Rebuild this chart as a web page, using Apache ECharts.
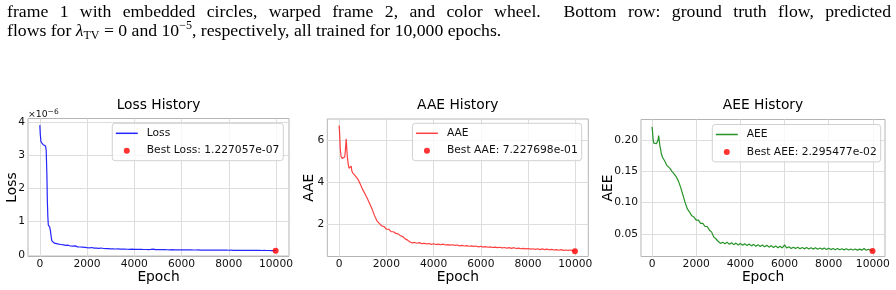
<!DOCTYPE html>
<html>
<head>
<meta charset="utf-8">
<script src="https://cdn.jsdelivr.net/npm/echarts@6/dist/echarts.min.js"></script>
<style>
  html, body { margin:0; padding:0; background:#fff; }
  #chart { position:absolute; left:0; top:0; width:896px; height:290px; }
  .cap { position:absolute; left:7px; width:884px; font-family:'Liberation Serif','Times New Roman',serif; font-size:17.7px; line-height:19px; color:#000; white-space:nowrap; }
  #cap1 { top:2.2px; text-align:justify; text-align-last:justify; white-space:normal; }
  #cap2 { top:21.3px; }
  .sub { font-size:12px; position:relative; top:3px; }
  .sup { font-size:12px; position:relative; top:-7px; }
</style>
</head>
<body>
<div id="chart"></div>
<div class="cap" id="cap1">frame 1 with embedded circles, warped frame 2, and color wheel.&nbsp; Bottom row: ground truth flow, predicted</div>
<div class="cap" id="cap2">flows for <i>λ</i><span class="sub">TV</span> = 0 and 10<span class="sup">−5</span>, respectively, all trained for 10,000 epochs.</div>
<script>
// ---- data ----
const epochs = [0,20,50,80,100,130,160,200,240,270,300,320,340,360,390,420,450,480,510,540,580,620,660,700,
  800,900,1000,1100,1200,1300,1400,1500,1600,1700,1800,1900,2000,2100,2200,2300,2400,2500,2600,2700,2800,2900,
  3000,3100,3200,3300,3400,3500,3600,3700,3800,3900,4000,4100,4200,4300,4400,4500,4600,4700,4800,4900,
  5000,5100,5200,5300,5400,5500,5600,5700,5800,5900,6000,6100,6200,6300,6400,6500,6600,6700,6800,6900,
  7000,7100,7200,7300,7400,7500,7600,7700,7800,7900,8000,8100,8200,8300,8400,8500,8600,8700,8800,8900,
  9000,9100,9200,9300,9400,9500,9600,9700,9800,9900,9990];

// loss in units of 1e-6
const lossE6 = [3.90,3.62,3.40,3.34,3.33,3.32,3.31,3.30,3.27,3.15,2.40,1.60,1.15,0.90,0.86,0.83,0.72,0.55,0.42,0.38,0.36,0.35,0.36,0.33,
  0.32,0.31,0.30,0.285,0.29,0.265,0.26,0.27,0.24,0.235,0.23,0.225,0.215,0.21,0.22,0.20,0.20,0.195,0.205,0.19,0.185,0.185,
  0.18,0.18,0.175,0.18,0.172,0.17,0.172,0.168,0.165,0.17,0.165,0.163,0.162,0.165,0.16,0.16,0.158,0.162,0.17,0.157,
  0.155,0.156,0.154,0.155,0.153,0.152,0.154,0.151,0.15,0.152,0.149,0.15,0.148,0.147,0.149,0.146,0.145,0.147,0.144,0.145,
  0.143,0.144,0.142,0.143,0.141,0.142,0.14,0.141,0.139,0.14,0.138,0.139,0.137,0.138,0.136,0.137,0.135,0.136,0.134,0.135,
  0.133,0.134,0.132,0.133,0.131,0.132,0.13,0.131,0.129,0.128,0.125];

const aae = [6.72,6.40,5.60,5.25,5.18,5.15,5.15,5.17,5.22,5.60,6.08,5.70,5.35,5.10,4.85,4.68,4.62,4.72,4.78,4.55,4.45,4.42,4.35,4.30,
  4.15,3.92,3.66,3.45,3.22,2.98,2.72,2.42,2.17,2.05,1.93,1.90,1.78,1.77,1.66,1.65,1.57,1.55,1.46,1.42,1.31,1.25,
  1.16,1.12,1.14,1.10,1.13,1.08,1.10,1.07,1.09,1.05,1.08,1.04,1.06,1.03,1.06,1.02,1.04,1.01,1.03,1.00,
  1.02,0.98,1.00,0.97,0.99,0.96,0.98,0.95,0.97,0.93,0.96,0.92,0.94,0.91,0.93,0.90,0.92,0.89,0.91,0.88,
  0.90,0.87,0.89,0.86,0.89,0.85,0.87,0.84,0.86,0.83,0.85,0.82,0.84,0.81,0.84,0.80,0.83,0.80,0.82,0.79,
  0.81,0.78,0.80,0.77,0.80,0.76,0.78,0.76,0.78,0.75,0.74];

const aee = [0.221,0.214,0.200,0.195,0.194,0.194,0.194,0.194,0.196,0.200,0.207,0.204,0.195,0.190,0.185,0.178,0.175,0.172,0.174,0.170,0.166,0.163,0.160,0.159,
  0.155,0.150,0.146,0.141,0.134,0.124,0.112,0.100,0.090,0.085,0.079,0.077,0.072,0.072,0.067,0.067,0.062,0.062,0.056,0.053,0.045,0.042,
  0.038,0.035,0.037,0.0345,0.037,0.0335,0.036,0.033,0.0355,0.0325,0.035,0.032,0.0345,0.0315,0.034,0.031,0.0335,0.0305,0.033,0.030,
  0.0325,0.0295,0.032,0.029,0.0315,0.0285,0.031,0.028,0.0305,0.0278,0.0325,0.0275,0.0295,0.027,0.029,0.0268,0.0288,0.0265,0.0285,0.0263,
  0.0283,0.0261,0.0281,0.0259,0.0279,0.0257,0.0277,0.0255,0.0275,0.0253,0.0272,0.0251,0.027,0.025,0.0268,0.0248,0.0266,0.0247,0.0264,0.0245,
  0.0262,0.0244,0.026,0.0243,0.0258,0.0242,0.0268,0.0241,0.0256,0.024,0.0236];

const bestEpoch = [9985, 9985, 9985];
const bestLoss = 1.227057e-07;
const bestAAE = 7.227698e-01;
const bestAEE = 2.295477e-02;

const titles = ['Loss History', 'AAE History', 'AEE History'];
const yNames = ['Loss', 'AAE', 'AEE'];
const xTicks = [0, 2000, 4000, 6000, 8000, 10000];
const yTicksLoss = [0, 1, 2, 3, 4];
const yTicksAAE = [2, 4, 6];
const yTicksAEE = [0.05, 0.10, 0.15, 0.20];

// ---- helpers ----
function sci(v) {
  const s = v.toExponential(6);
  const [m, e] = s.split('e');
  const sign = e[0] === '-' ? '-' : '+';
  const d = e.replace(/^[+-]/, '');
  return m + 'e' + sign + (d.length < 2 ? '0' + d : d);
}
const FONT = "'DejaVu Sans', sans-serif";
const TICK_FS = 10.7, LABEL_FS = 13.8;
const pairs = (xs, ys) => xs.map((x, i) => [x, ys[i]]);

const grids = [
  { left: 28,    top: 118.5, width: 261, height: 138 },
  { left: 327.3, top: 119,   width: 261, height: 137.5 },
  { left: 641,   top: 119.5, width: 244, height: 137 }
];
const yRanges = [[-0.05, 4.1], [0.47, 7.03], [0.0141, 0.2327]];
const yTickSets = [yTicksLoss, yTicksAAE, yTicksAEE];
const yFmt = [v => String(v), v => String(v), v => v.toFixed(2)];
const yNameX = [12.5, 309.3, 608.5];
const colors = ['rgba(0,0,255,0.85)', 'rgba(255,0,0,0.75)', 'rgba(0,128,0,0.85)'];
const seriesNames = ['Loss', 'AAE', 'AEE'];
const bestNames = ['Best Loss: ' + sci(bestLoss), 'Best AAE: ' + sci(bestAAE), 'Best AEE: ' + sci(bestAEE)];
const bestVals = [bestLoss / 1e-6, bestAAE, bestAEE];
const lineData = [pairs(epochs, lossE6), pairs(epochs, aae), pairs(epochs, aee)];
const legendRight = [612.7, 314.3, 15.3];
const legendTop = [123.3, 123.3, 124.5];

const option = {
  animation: false,
  backgroundColor: '#fff',
  grid: grids.map(g => Object.assign({ show: true, borderColor: '#b5b5b5', borderWidth: 1, backgroundColor: 'transparent', containLabel: false }, g)),
  xAxis: grids.map((g, i) => ({
    type: 'value', gridIndex: i, min: -500, max: 10550,
    name: 'Epoch', nameLocation: 'middle', nameGap: 10,
    nameTextStyle: { fontFamily: FONT, fontSize: LABEL_FS, color: '#000' },
    axisLine: { show: false },
    axisTick: { show: false, customValues: xTicks },
    axisLabel: { customValues: xTicks, formatter: v => String(v), fontFamily: FONT, fontSize: TICK_FS, color: '#111', margin: 2.5 },
    splitLine: { show: true, lineStyle: { color: '#dddddd', width: 1 } }
  })),
  yAxis: grids.map((g, i) => ({
    type: 'value', gridIndex: i, min: yRanges[i][0], max: yRanges[i][1],
    axisLine: { show: false },
    axisTick: { show: false, customValues: yTickSets[i] },
    axisLabel: { customValues: yTickSets[i], formatter: yFmt[i], fontFamily: FONT, fontSize: TICK_FS, color: '#111', margin: 3 },
    splitLine: { show: true, lineStyle: { color: '#dddddd', width: 1 } }
  })),
  legend: grids.map((g, i) => ({
    orient: 'vertical', right: legendRight[i], top: legendTop[i],
    padding: [3.5, 4, 3.5, 3.5], itemGap: 4.4, itemWidth: 22, itemHeight: 6,
    backgroundColor: 'rgba(255,255,255,0.8)', borderColor: '#d0d0d0', borderWidth: 1, borderRadius: 3,
    textStyle: { fontFamily: FONT, fontSize: TICK_FS, lineHeight: 13, color: '#111', padding: [0, 0, 0, 4] },
    selectedMode: false,
    data: [
      { name: seriesNames[i], icon: 'path://M0,0H44V3H0Z' },
      { name: bestNames[i], icon: 'circle' }
    ]
  })),
  graphic: [
    ...titles.map((t, i) => ({
      type: 'text', x: grids[i].left + grids[i].width / 2, y: 105,
      style: { text: t, align: 'center', verticalAlign: 'middle', font: LABEL_FS + "px 'DejaVu Sans'", fill: '#000' }
    })),
    ...yNames.map((t, i) => ({
      type: 'text', x: yNameX[i], y: grids[i].top + grids[i].height / 2, rotation: Math.PI / 2,
      style: { text: t, align: 'center', verticalAlign: 'middle', font: LABEL_FS + "px 'DejaVu Sans'", fill: '#000' }
    })),
    {
      type: 'text', x: 28, y: 115,
      style: {
        text: '×10{s|−6}', verticalAlign: 'middle', font: "9.3px 'DejaVu Sans'", fill: '#111',
        rich: { s: { fontSize: 7.5, fontFamily: 'DejaVu Sans', verticalAlign: 'top', padding: [0, 0, 5, 0] } }
      }
    }
  ],
  series: [
    ...lineData.map((d, i) => ({
      type: 'line', name: seriesNames[i], xAxisIndex: i, yAxisIndex: i, data: d,
      showSymbol: false, symbol: 'none', lineStyle: { width: 1.2, color: colors[i] }, itemStyle: { color: colors[i] }, z: 2
    })),
    ...bestVals.map((v, i) => ({
      type: 'scatter', name: bestNames[i], xAxisIndex: i, yAxisIndex: i, data: [[bestEpoch[i], v]],
      symbol: 'circle', symbolSize: 6, itemStyle: { color: '#ff0000' }, z: 5
    }))
  ]
};

const chart = echarts.init(document.getElementById('chart'), null, { renderer: 'canvas' });
chart.setOption(option);
</script>
</body>
</html>
